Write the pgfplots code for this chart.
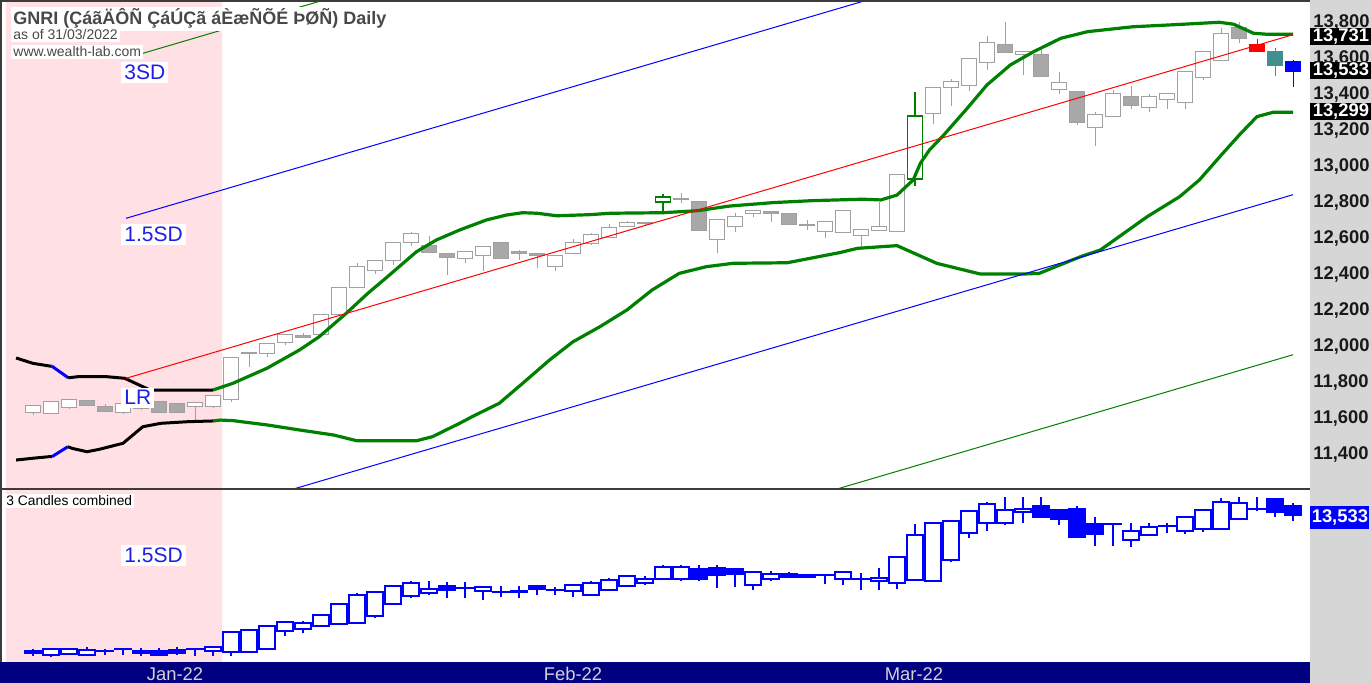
\documentclass[border=0pt]{standalone}
\usepackage{fontspec}
\setmainfont{Liberation Sans}
\usepackage{pgfplots}
\pgfplotsset{compat=1.18}
\usepackage{pgfplotstable}

\definecolor{pinkbg}{RGB}{255,225,229}
\definecolor{candlegray}{RGB}{160,160,160}
\definecolor{candlefill}{RGB}{168,168,168}
\definecolor{bbgreen}{RGB}{0,128,0}
\definecolor{tealc}{RGB}{64,144,144}
\definecolor{navybar}{RGB}{0,0,128}
\definecolor{stripgray}{RGB}{214,214,214}
\definecolor{labelblue}{RGB}{30,30,230}
\definecolor{titlegray}{RGB}{72,72,72}
\definecolor{framegray}{RGB}{60,60,60}
\definecolor{datetext}{RGB}{210,210,210}

\tikzset{
 tU/.style={draw=candlegray, fill=white, line width=0.5pt},
 tD/.style={draw=candlegray, fill=candlefill, line width=0.5pt},
 tG/.style={draw=bbgreen, fill=white, line width=0.75pt},
 tR/.style={draw=red, fill=red, line width=0.5pt},
 tT/.style={draw=tealc, fill=tealc, line width=0.5pt},
 tB/.style={draw=blue, fill=blue, line width=0.5pt},
 bU/.style={draw=blue, fill=white, line width=1pt},
 bD/.style={draw=blue, fill=blue, line width=1pt},
}

\pgfplotstableread{
i o h l c s
0 11637 11676 11622 11674 U
1 11632 11698 11630 11696 U
2 11665 11713 11654 11711 U
3 11700 11706 11672 11674 D
4 11668 11682 11637 11639 D
5 11637 11689 11628 11687 U
6 11660 11690 11650 11680 U
7 11696 11698 11635 11637 D
8 11687 11690 11635 11637 D
9 11672 11693 11594 11691 U
10 11668 11731 11659 11729 U
11 11706 11943 11696 11941 U
12 11972 11974 11891 11966 D
13 11965 12023 11943 12021 U
14 12024 12073 12011 12071 U
15 12065 12079 12048 12054 D
16 12071 12185 12069 12183 U
17 12183 12334 12181 12332 U
18 12332 12465 12330 12446 U
19 12424 12484 12406 12482 U
20 12483 12584 12456 12582 U
21 12582 12637 12563 12628 U
22 12565 12617 12522 12524 D
23 12517 12519 12400 12498 D
24 12491 12534 12465 12532 U
25 12506 12558 12422 12556 U
26 12583 12585 12487 12489 D
27 12528 12539 12483 12517 D
28 12517 12519 12437 12506 D
29 12446 12508 12424 12506 U
30 12517 12598 12515 12582 U
31 12576 12635 12567 12626 U
32 12609 12682 12607 12665 U
33 12672 12700 12670 12691 U
34 12685 12695 12680 12689 U
35 12806 12848 12752 12832 G
36 12820 12854 12798 12824 U
37 12807 12809 12644 12646 D
38 12598 12708 12521 12706 U
39 12672 12743 12640 12724 U
40 12739 12759 12721 12757 U
41 12752 12754 12696 12743 D
42 12743 12745 12676 12678 D
43 12676 12706 12650 12680 U
44 12644 12700 12604 12698 U
45 12635 12759 12633 12757 U
46 12617 12652 12554 12650 U
47 12646 12807 12644 12672 U
48 12641 12963 12639 12961 U
49 12932 13415 12894 13283 G
50 13298 13443 13237 13441 U
51 13441 13489 13339 13474 U
52 13450 13602 13422 13600 U
53 13578 13728 13539 13691 U
54 13682 13804 13633 13635 D
55 13626 13643 13511 13641 U
56 13626 13663 13498 13500 D
57 13433 13526 13404 13471 U
58 13418 13420 13233 13246 D
59 13222 13305 13118 13293 U
60 13283 13428 13281 13409 U
61 13393 13450 13322 13341 D
62 13333 13405 13304 13391 U
63 13376 13409 13322 13407 U
64 13357 13535 13322 13533 U
65 13498 13643 13483 13641 U
66 13594 13771 13592 13743 U
67 13774 13804 13687 13715 D
68 13678 13711 13639 13641 R
69 13644 13659 13506 13563 T
70 13585 13594 13446 13533 B
}\topdata

\pgfplotstableread{
i o h l c s
0 11701 11732 11633 11674 D
1 11655 11730 11624 11728 U
2 11664 11730 11647 11728 U
3 11655 11755 11653 11714 U
4 11699 11736 11655 11703 U
5 11728 11732 11655 11730 U
6 11709 11746 11642 11674 D
7 11701 11746 11653 11655 D
8 11719 11755 11655 11682 D
9 11726 11730 11633 11728 U
10 11701 11777 11633 11755 U
11 11692 11960 11633 11958 U
12 11692 11995 11690 11993 U
13 11736 12060 11734 12039 U
14 11979 12099 11912 12097 U
15 11998 12106 11948 12079 U
16 12043 12197 12041 12195 U
17 12070 12354 12056 12340 U
18 12079 12485 12077 12466 U
19 12182 12504 12151 12502 U
20 12340 12585 12338 12583 U
21 12444 12647 12421 12624 U
22 12485 12647 12462 12547 U
23 12587 12633 12421 12533 D
24 12562 12637 12421 12554 D
25 12520 12568 12398 12566 U
26 12502 12579 12431 12496 D
27 12514 12579 12421 12508 D
28 12583 12585 12458 12547 D
29 12531 12566 12462 12535 U
30 12512 12595 12439 12593 U
31 12458 12647 12456 12624 U
32 12525 12691 12523 12664 U
33 12579 12716 12577 12714 U
34 12624 12714 12601 12682 U
35 12682 12863 12680 12836 U
36 12682 12871 12655 12836 U
37 12813 12863 12644 12682 D
38 12826 12871 12556 12728 D
39 12809 12811 12566 12745 D
40 12601 12774 12533 12772 U
41 12682 12782 12647 12745 U
42 12745 12772 12691 12709 D
43 12736 12745 12690 12701 D
44 12734 12740 12614 12738 U
45 12682 12774 12593 12772 U
46 12683 12759 12533 12679 D
47 12655 12826 12533 12691 U
48 12617 12977 12547 12975 U
49 12668 13421 12666 13276 U
50 12647 13436 12645 13434 U
51 12930 13479 12907 13465 U
52 13299 13602 13232 13600 U
53 13434 13718 13330 13691 U
54 13434 13782 13403 13614 U
55 13583 13782 13434 13628 U
56 13660 13782 13509 13511 D
57 13614 13616 13403 13492 D
58 13628 13660 13239 13241 D
59 13421 13511 13120 13286 D
60 13419 13425 13120 13423 U
61 13209 13434 13106 13330 U
62 13276 13434 13274 13376 U
63 13388 13434 13299 13392 U
64 13330 13513 13286 13511 U
65 13357 13616 13313 13614 U
66 13357 13772 13355 13718 U
67 13492 13782 13490 13705 U
68 13625 13782 13592 13629 U
69 13763 13765 13511 13583 D
70 13660 13705 13457 13540 D
}\botdata

% #1 table, #2 half width (bars), #3 style prefix
\newcommand\drawcandles[3]{%
 \pgfplotstablegetrowsof{#1}%
 \pgfmathtruncatemacro\Nrows{\pgfplotsretval-1}%
 \pgfplotsforeachungrouped \rr in {0,...,\Nrows}{%
   \pgfplotstablegetelem{\rr}{i}\of#1 \let\Ci\pgfplotsretval
   \pgfplotstablegetelem{\rr}{o}\of#1 \let\Co\pgfplotsretval
   \pgfplotstablegetelem{\rr}{h}\of#1 \let\Ch\pgfplotsretval
   \pgfplotstablegetelem{\rr}{l}\of#1 \let\Cl\pgfplotsretval
   \pgfplotstablegetelem{\rr}{c}\of#1 \let\Cc\pgfplotsretval
   \pgfplotstablegetelem{\rr}{s}\of#1 \let\Cs\pgfplotsretval
   \pgfmathsetmacro\Xa{\Ci-#2}%
   \pgfmathsetmacro\Xb{\Ci+#2}%
   \edef\temp{\noexpand\path[#3\Cs, fill=none] (axis cs:\Ci,\Cl) -- (axis cs:\Ci,\Ch);
     \noexpand\path[#3\Cs] (axis cs:\Xa,\Co) rectangle (axis cs:\Xb,\Cc);}%
   \temp
 }%
}

\begin{document}
\begin{tikzpicture}[x=0.5pt,y=0.5pt]
\useasboundingbox (0,0) rectangle (1371,683);
\fill[white] (0,0) rectangle (1371,683);
\fill[stripgray] (1310,0) rectangle (1371,683);
\fill[navybar] (0,0) rectangle (1310,21);

% ---------------- top panel ----------------
\begin{axis}[
  at={(0pt,97.5pt)}, anchor=south west, scale only axis,
  width=655pt, height=243.5pt,
  xmin=-1.8333, xmax=70.944, ymin=11216.7, ymax=13922.2,
  axis line style={draw=none},
  xtick=\empty,
  ytick={11400,11600,...,13800},
  scaled y ticks=false,
  yticklabel pos=right,
  major tick length=0pt,
  /pgf/number format/assume math mode=true,
  /pgf/number format/1000 sep={,},
  /pgf/number format/fixed,
  yticklabel style={font=\fontsize{9.2}{10}\selectfont\bfseries, text=black!90, anchor=west, inner sep=0pt, xshift=1.5pt},
  clip=true,
]
\addplot[fill=pinkbg, draw=none] coordinates {(-1.5,11216.7) (10.5,11216.7) (10.5,13922.2) (-1.5,13922.2)} \closedcycle;
\drawcandles{\topdata}{0.42}{t}
% Bollinger-type bands
\addplot[black, line width=1.5pt] coordinates {(-0.94,11939) (0,11909) (0.94,11894) (1.04,11894)};
\addplot[blue, line width=1.5pt] coordinates {(1.04,11894) (1.96,11829)};
\addplot[black, line width=1.5pt] coordinates {(1.96,11829) (2.5,11835) (4.1,11835) (5.1,11826) (6.5,11761) (10,11761)};
\addplot[black, line width=1.5pt] coordinates {(-0.94,11372) (0,11382) (0.94,11391) (1.06,11391)};
\addplot[blue, line width=1.5pt] coordinates {(1.06,11391) (1.94,11446)};
\addplot[black, line width=1.5pt] coordinates {(1.94,11446) (2.17,11437) (3,11418) (3.7,11432) (5,11465) (6.1,11557) (7.1,11576) (8.6,11585) (10,11589)};
\addplot[bbgreen, line width=1.6pt] coordinates {
 (10,11761) (11.1,11798) (13,11882) (14.8,11983) (15.9,12057) (17.4,12187) (18.6,12298)
 (19.7,12391) (21.3,12529) (22.4,12594) (23.7,12650) (25.2,12706) (26.3,12733) (27.2,12746)
 (28,12743) (29.1,12729) (30.9,12735) (32.1,12743) (35,12746) (36.9,12757) (38.7,12783)
 (41.1,12802) (43.3,12813) (46.1,12821) (47.1,12817) (48,12844) (48.9,12928) (49.3,13021)
 (49.8,13094) (50.6,13178) (51.9,13326) (53,13456) (54.3,13567) (55.6,13641) (57.1,13715)
 (58.6,13752) (61.1,13779) (63.9,13793) (65.9,13804) (66.7,13793) (67.8,13743) (68.6,13737) (70,13737)};
\addplot[bbgreen, line width=1.6pt] coordinates {
 (10,11589) (10.4,11594) (11.1,11591) (13,11567) (14.8,11539) (16.7,11511) (18,11479)
 (21.3,11479) (22.2,11502) (23.7,11576) (24.4,11613) (25.9,11687) (27.2,11798) (28.7,11928)
 (30,12029) (31.5,12113) (33,12206) (34.4,12317) (35.9,12409) (37.4,12446) (38.9,12465)
 (41.9,12468) (44.8,12524) (45.8,12548) (47.1,12557) (48,12563) (49.8,12483) (50.2,12465)
 (52.6,12406) (55.2,12406) (55.9,12409) (58.2,12502) (59.3,12539) (61.9,12724) (63.7,12835)
 (64.8,12928) (66.1,13076) (67.1,13187) (68,13280) (68.9,13304) (70,13304)};
% regression channel
\addplot[red, line width=0.5pt] coordinates {(5.17,11826) (70,13735)};
\addplot[blue, line width=0.5pt] coordinates {(5.17,12715) (70,14624)};
\addplot[blue, line width=0.5pt] coordinates {(5.17,10937) (70,12846)};
\addplot[bbgreen, line width=0.5pt] coordinates {(5.17,13604) (70,15513)};
\addplot[bbgreen, line width=0.5pt] coordinates {(5.17,10048) (70,11957)};
\end{axis}

% ---------------- bottom panel ----------------
\begin{axis}[
  at={(0pt,10.5pt)}, anchor=south west, scale only axis,
  width=655pt, height=86pt,
  xmin=-1.8333, xmax=70.944, ymin=11556.4, ymax=13880.1,
  axis line style={draw=none},
  xtick=\empty, ytick=\empty,
  clip=true,
]
\addplot[fill=pinkbg, draw=none] coordinates {(-1.5,11556.4) (10.5,11556.4) (10.5,13880.1) (-1.5,13880.1)} \closedcycle;
\drawcandles{\botdata}{0.42}{b}
\end{axis}

% frame lines
\draw[framegray, line width=1pt] (0,682) -- (1310,682);
\draw[framegray, line width=1pt] (1,683) -- (1,21);
\draw[framegray, line width=1.2pt] (0,194) -- (1310,194);

% value boxes
\node[fill=black, text=white, font=\fontsize{9.2}{10}\selectfont\bfseries, inner sep=0pt, minimum width=30.5pt, minimum height=8.5pt, anchor=west] at (1310,646.5) {13,731};
\node[fill=black, text=white, font=\fontsize{9.2}{10}\selectfont\bfseries, inner sep=0pt, minimum width=30.5pt, minimum height=8.5pt, anchor=west] at (1310,612.5) {13,533};
\node[fill=black, text=white, font=\fontsize{9.2}{10}\selectfont\bfseries, inner sep=0pt, minimum width=30.5pt, minimum height=8.5pt, anchor=west] at (1310,571.5) {13,299};
\node[fill=blue, text=white, font=\fontsize{9.2}{10}\selectfont\bfseries, inner sep=0pt, minimum width=29.5pt, minimum height=11.5pt, anchor=west] at (1310,165) {13,533};

% date labels
\node[text=datetext, font=\fontsize{9.2}{10}\selectfont, anchor=base, inner sep=0pt] at (175,2) {Jan-22};
\node[text=datetext, font=\fontsize{9.2}{10}\selectfont, anchor=base, inner sep=0pt] at (573,2) {Feb-22};
\node[text=datetext, font=\fontsize{9.2}{10}\selectfont, anchor=base, inner sep=0pt] at (914,2) {Mar-22};

% titles
\node[anchor=base west, fill=white, inner sep=1pt, text=titlegray, font=\fontsize{9}{10}\selectfont\bfseries] at (11,658) {GNRI (ÇáãÄÔÑ ÇáÚÇã áÈæÑÕÉ ÞØÑ) Daily};
\node[anchor=base west, fill=white, inner sep=1pt, text=titlegray, font=\fontsize{7}{8}\selectfont] at (11,643) {as of 31/03/2022};
\node[anchor=base west, fill=white, inner sep=1pt, text=titlegray, font=\fontsize{7}{8}\selectfont] at (11,626) {www.wealth-lab.com};

% channel labels
\node[anchor=base west, fill=white, inner sep=1.5pt, text=labelblue, font=\fontsize{10.5}{12}\selectfont] at (121,603) {3SD};
\node[anchor=base west, fill=white, inner sep=1.5pt, text=labelblue, font=\fontsize{10.5}{12}\selectfont] at (121,441) {1.5SD};
\node[anchor=base west, fill=white, inner sep=1.5pt, text=labelblue, font=\fontsize{10.5}{12}\selectfont] at (121,278) {LR};
\node[anchor=base west, fill=white, inner sep=1.5pt, text=labelblue, font=\fontsize{10.5}{12}\selectfont] at (121,120) {1.5SD};
\node[anchor=base west, fill=white, inner sep=1pt, text=black, font=\fontsize{6.9}{8}\selectfont] at (4,177) {3 Candles combined};
\end{tikzpicture}
\end{document}
